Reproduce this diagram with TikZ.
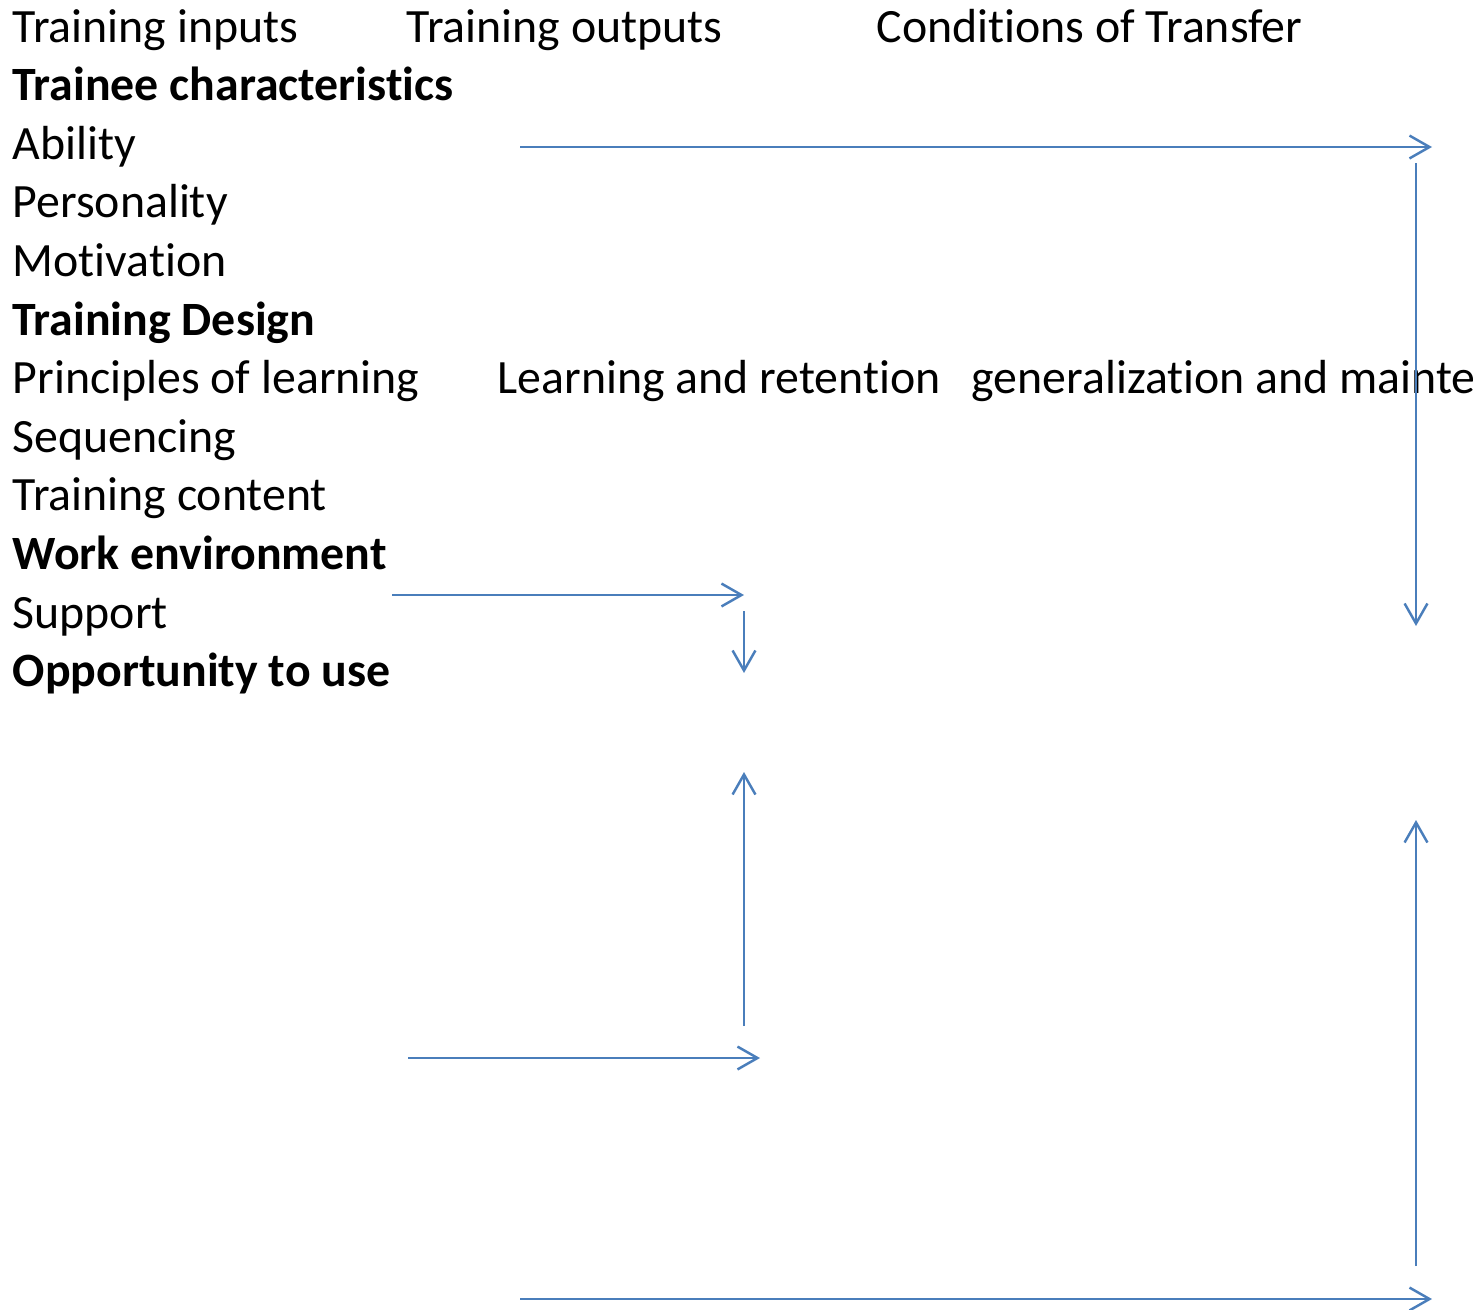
\documentclass[tikz,border=0pt]{standalone}
\usepackage{fontspec}
\setmainfont{Carlito}[Ligatures=NoCommon]
\usetikzlibrary{arrows.meta}
\definecolor{flowblue}{RGB}{74,126,187}
\tikzset{
    txt/.style={anchor=base west, inner sep=0pt, font=\fontsize{13.6pt}{16pt}\selectfont},
    hd/.style={txt, font=\fontsize{13.6pt}{16pt}\selectfont\bfseries},
    flow/.style={draw=flowblue, line width=0.7pt, -{Straight Barb[length=5.7pt, width=6.5pt]}}
}
\begin{document}
\begin{tikzpicture}[x=0.01cm, y=-0.01cm]
        \useasboundingbox (0,0) rectangle (1473,1309);

        % left column
        \foreach \lbl/\st [count=\i from 0] in {Training inputs/txt, Trainee characteristics/hd,
            Ability/txt, Personality/txt, Motivation/txt, Training Design/hd,
            Principles of learning/txt, Sequencing/txt, Training content/txt,
            Work environment/hd, Support/txt, Opportunity to use/hd}
        {
            \node[\st] (in\i) at (12, {42+58.6*\i}) {\lbl};
        }

        \node[txt] (outputs)  at (406, 42)    {Training outputs};
        \node[txt] (transfer) at (876, 42)    {Conditions of Transfer};
        \node[txt] (learning) at (497, 393.6) {Learning and retention};
        \node[txt] (general)  at (971, 393.6) {generalization and maintenance};

        \coordinate (t1) at (520, 147);  \coordinate (t2) at (1432, 147);
        \coordinate (t3) at (1416, 163); \coordinate (t4) at (1416, 626);
        \coordinate (w1) at (392, 595);  \coordinate (w2) at (744, 595);
        \coordinate (w3) at (744, 611);  \coordinate (w4) at (744, 673);
        \coordinate (u1) at (744, 1026); \coordinate (u2) at (744, 772);
        \coordinate (m1) at (408, 1058); \coordinate (m2) at (760, 1058);
        \coordinate (v1) at (1416, 1266);\coordinate (v2) at (1416, 820);
        \coordinate (b1) at (520, 1299); \coordinate (b2) at (1432, 1299);

        \draw[flow] (t1) -- (t2);
        \draw[flow] (t3) -- (t4);
        \draw[flow] (w1) -- (w2);
        \draw[flow] (w3) -- (w4);
        \draw[flow] (u1) -- (u2);
        \draw[flow] (m1) -- (m2);
        \draw[flow] (v1) -- (v2);
        \draw[flow] (b1) -- (b2);
    \end{tikzpicture}
\end{document}
